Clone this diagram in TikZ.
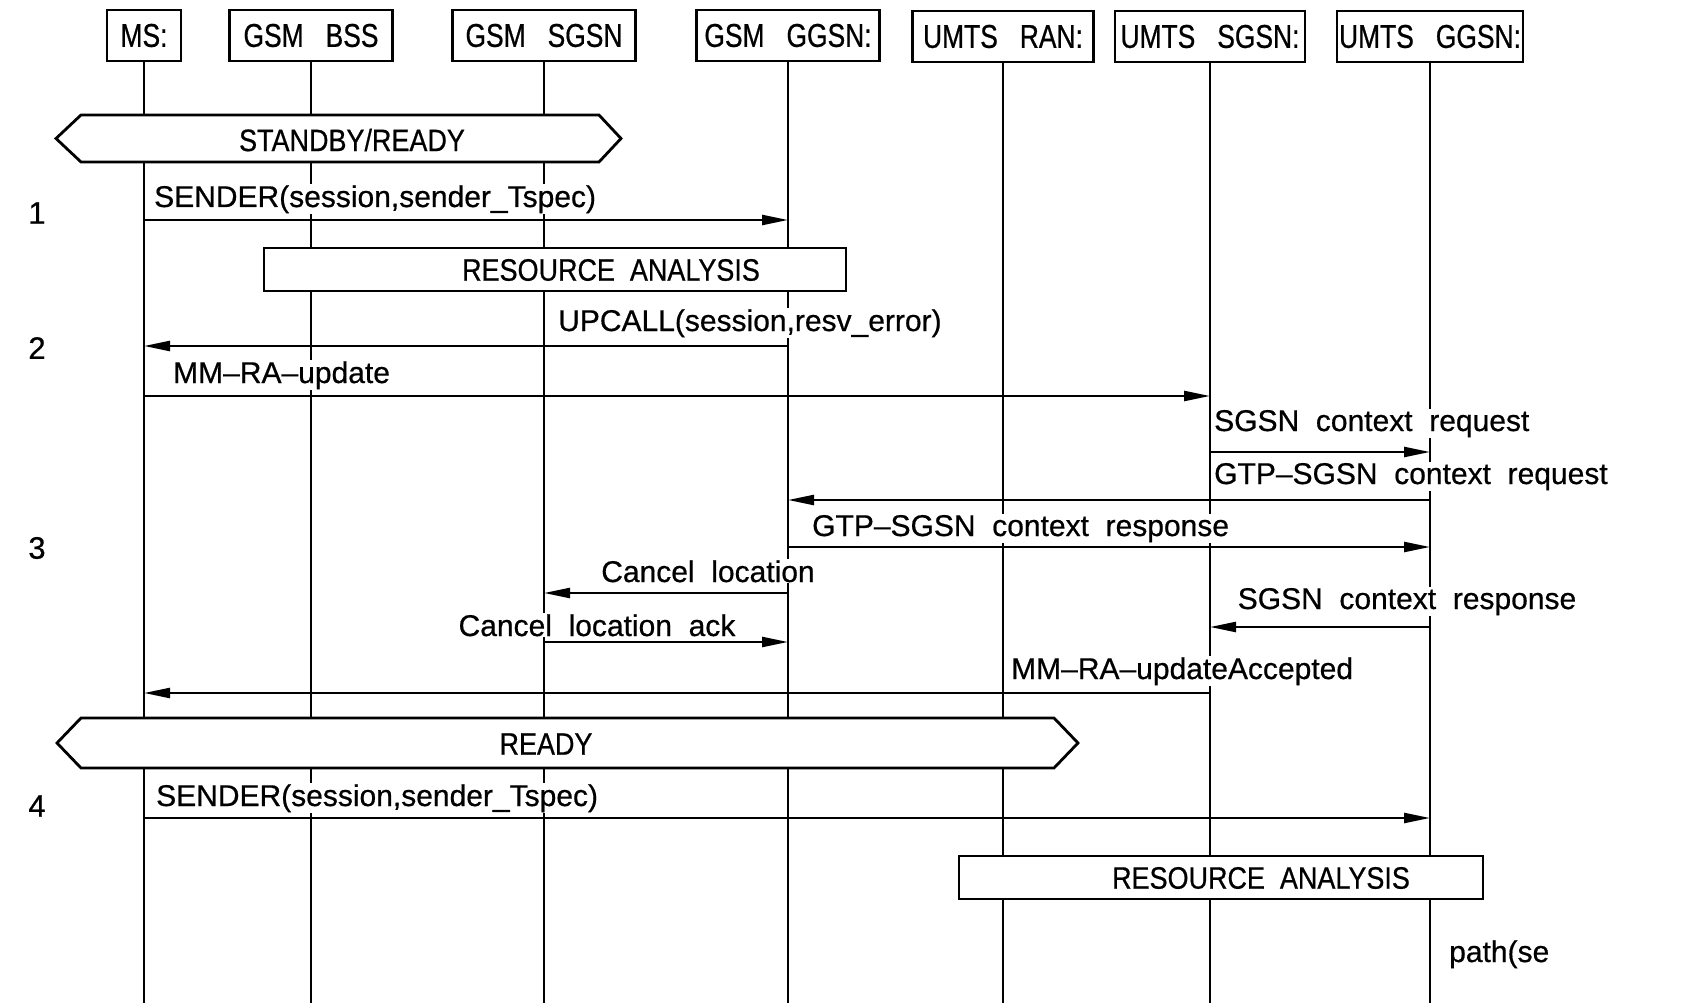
\documentclass[tikz,border=0pt]{standalone}
\usepackage{fontspec}
\setmainfont{Liberation Sans}[WordSpace=2,FakeBold=0.6]
\newfontfamily\hdrfont{Liberation Sans}[FakeStretch=0.8,WordSpace=3,FakeBold=0.6]
\newfontfamily\capsfont{Liberation Sans}[FakeStretch=0.87,WordSpace=2,FakeBold=0.6]
\usetikzlibrary{arrows.meta}
\begin{document}
\begin{tikzpicture}[x=1pt,y=-1pt,
  hdr/.style={draw,line width=2.6pt,fill=white,minimum height=51pt,inner sep=0pt,font=\hdrfont\fontsize{33}{38}\selectfont},
  life/.style={line width=2pt},
  msg/.style={line width=2.4pt,-{Triangle[length=26pt,width=10pt]}},
  lbl/.style={fill=white,inner sep=1pt,font=\fontsize{30}{36}\selectfont},
  boxshape/.style={draw,line width=2.8pt,fill=white,line join=miter},
  capslbl/.style={inner sep=0pt,font=\capsfont\fontsize{31}{36}\selectfont},
  num/.style={inner sep=0pt,font=\fontsize{31}{36}\selectfont}
]
\useasboundingbox (0,0) rectangle (1684,1003);
\coordinate (bot) at (0,1003);
% header boxes
\node[hdr,minimum width=74pt]  (ms)    at (144,35.5)  {MS:};
\node[hdr,minimum width=163pt] (bss)   at (311,35.5)  {GSM BSS};
\node[hdr,minimum width=183pt] (sgsn)  at (544,35.5)  {GSM SGSN};
\node[hdr,minimum width=183pt] (ggsn)  at (788,35.5)  {GSM GGSN:};
\node[hdr,minimum width=181pt] (ran)   at (1003,36.5) {UMTS RAN:};
\node[hdr,minimum width=190pt] (usgsn) at (1210,36.5) {UMTS SGSN:};
\node[hdr,minimum width=186pt] (uggsn) at (1430,36.5) {UMTS GGSN:};
% lifelines
\foreach \n in {ms,bss,sgsn,ggsn,ran,usgsn,uggsn}
  \draw[life] (\n.south) -- (\n.south |- bot);
% state hexagons
\draw[boxshape] (56,138.5) coordinate (sbl) -- (81,115) -- (599,115) -- (621,138.5) coordinate (sbr) -- (599,162) -- (81,162) -- cycle;
\node[capslbl] (sbtxt) at (352,140) {STANDBY/READY};
\draw[boxshape] (57,743) coordinate (rdl) -- (81,718) -- (1054,718) -- (1078,743) coordinate (rdr) -- (1054,768) -- (81,768) -- cycle;
\node[capslbl] (rdtxt) at (546,744) {READY};
% resource analysis boxes
\draw[boxshape] (264,248) rectangle (846,291);
\node[capslbl] (ra1) at (611,270) {RESOURCE ANALYSIS};
\draw[boxshape] (959,856) rectangle (1483,899);
\node[capslbl] (ra2) at (1261,878) {RESOURCE ANALYSIS};
% messages
\draw[msg] (ms.south |- 0,220) -- (ggsn.south |- 0,220);
\draw[msg] (ggsn.south |- 0,346) -- (ms.south |- 0,346);
\draw[msg] (ms.south |- 0,396) -- (usgsn.south |- 0,396);
\draw[msg] (usgsn.south |- 0,452) -- (uggsn.south |- 0,452);
\draw[msg] (uggsn.south |- 0,500) -- (ggsn.south |- 0,500);
\draw[msg] (ggsn.south |- 0,547) -- (uggsn.south |- 0,547);
\draw[msg] (ggsn.south |- 0,593) -- (sgsn.south |- 0,593);
\draw[msg] (uggsn.south |- 0,627) -- (usgsn.south |- 0,627);
\draw[msg] (sgsn.south |- 0,642) -- (ggsn.south |- 0,642);
\draw[msg] (usgsn.south |- 0,693) -- (ms.south |- 0,693);
\draw[msg] (ms.south |- 0,818) -- (uggsn.south |- 0,818);
% labels
\node[lbl,anchor=base west] (t1) at (153,207) {SENDER(session,sender\_Tspec)};
\node[lbl,anchor=base west] (t2) at (557,331) {UPCALL(session,resv\_error)};
\node[lbl,anchor=base west] (t3) at (172,383) {MM–RA–update};
\node[lbl,anchor=base west] (t4) at (1213,431) {SGSN context request};
\node[lbl,anchor=base west] (t5) at (1213,484) {GTP–SGSN context request};
\node[lbl,anchor=base west] (t6) at (811,536) {GTP–SGSN context response};
\node[lbl,anchor=base] (t7) at (708,582) {Cancel location};
\node[lbl,anchor=base] (t8) at (597,636) {Cancel location ack};
\node[lbl,anchor=base] (t9) at (1407,609) {SGSN context response};
\node[lbl,anchor=base west] (t10) at (1010,679) {MM–RA–updateAccepted};
\node[lbl,anchor=base west] (t11) at (155,806) {SENDER(session,sender\_Tspec)};
\node[lbl,anchor=base west] (t12) at (1448,962) {path(se};
% step numbers
\node[num] (n1) at (37,213) {1};
\node[num] (n2) at (37,348) {2};
\node[num] (n3) at (37,548) {3};
\node[num] (n4) at (37,806) {4};
\end{tikzpicture}
\end{document}
